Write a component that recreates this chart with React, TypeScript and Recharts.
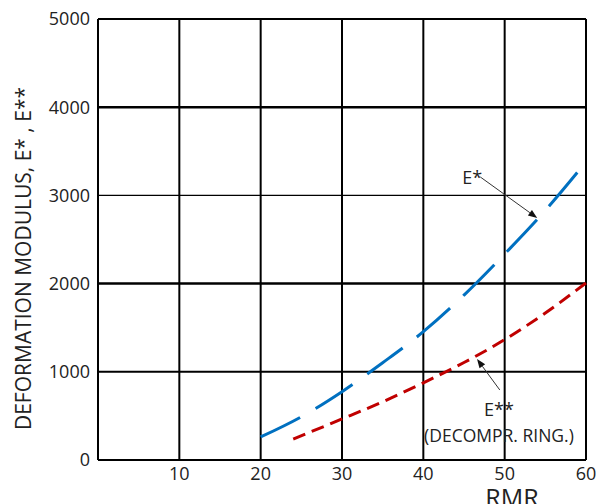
import {
  LineChart, Line, XAxis, YAxis, CartesianGrid, ReferenceLine, ReferenceDot,
} from 'recharts';

const FONT = '"Open Sans", "Noto Sans", sans-serif';

// E* (blue, long dash)
const rmrStar = [20, 25, 30, 35, 40, 45, 50, 55, 60];
const eStar = [261, 490, 775, 1103, 1455, 1870, 2336, 2830, 3380];

// E** decompressed ring (red, short dash)
const rmrDecomp = [24, 30, 35, 40, 45, 50, 55, 60];
const eDecomp = [238, 465, 660, 875, 1105, 1365, 1667, 2007];

const xTicks = [10, 20, 30, 40, 50, 60];
const yTicks = [0, 1000, 2000, 3000, 4000, 5000];

const starData = rmrStar.map((x, i) => ({ x, y: eStar[i] }));
const decompData = rmrDecomp.map((x, i) => ({ x, y: eDecomp[i] }));

const hLineWidth = (v: number) => (v === 2000 || v === 4000 ? 2.5 : v === 3000 ? 1.3 : 2);

function Arrow(p: any) {
  const { x1, y1, x2, y2 } = p;
  const ang = Math.atan2(y2 - y1, x2 - x1);
  const len = 9;
  const w = 3.5;
  const bx = x2 - len * Math.cos(ang);
  const by = y2 - len * Math.sin(ang);
  const px = -Math.sin(ang) * w;
  const py = Math.cos(ang) * w;
  return (
    <g>
      <line x1={x1} y1={y1} x2={bx} y2={by} stroke="#333" strokeWidth={1} />
      <polygon points={`${x2},${y2} ${bx + px},${by + py} ${bx - px},${by - py}`} fill="#111" />
    </g>
  );
}

const yLabel = (props: any) => {
  const vb = props.viewBox;
  const cx = 23;
  const cy = vb.y + vb.height / 2 + 19;
  return (
    <text x={cx} y={cy} transform={`rotate(-90 ${cx} ${cy})`} textAnchor="middle"
      dominantBaseline="central" fontSize={21} fill="#222" fontFamily={FONT}>
      DEFORMATION MODULUS, E* , E**
    </text>
  );
};

const xLabel = (props: any) => {
  const vb = props.viewBox;
  return (
    <text x={vb.x + vb.width - 74} y={vb.y + 47} textAnchor="middle"
      fontSize={25} fill="#222" fontFamily={FONT}>
      RMR
    </text>
  );
};

export default function App() {
  return (
    <div style={{ position: 'absolute', left: 0, top: 0, background: '#fff', fontFamily: FONT }}>
      <LineChart width={598} height={504} margin={{ top: 19, right: 12, bottom: 14, left: 0 }}>
        <CartesianGrid horizontal={false} stroke="#000" strokeWidth={2} />
        {yTicks.slice(1).map((v) => (
          <ReferenceLine key={v} y={v} stroke="#000" strokeWidth={hLineWidth(v)} />
        ))}
        <XAxis
          type="number" dataKey="x" domain={[0, 60]} ticks={xTicks} height={30} allowDuplicatedCategory={false}
          axisLine={{ stroke: '#000', strokeWidth: 2 }} tickLine={false} tickSize={0} tickMargin={7}
          tick={{ fontSize: 18, fill: '#222', fontFamily: FONT }}
          label={{ content: xLabel }}
        />
        <YAxis
          type="number" domain={[0, 5000]} ticks={yTicks} width={98}
          axisLine={{ stroke: '#000', strokeWidth: 2 }} tickLine={false} tickSize={0} tickMargin={8}
          tick={{ fontSize: 18, fill: '#222', fontFamily: FONT }}
          label={{ content: yLabel }}
        />
        <Line data={starData} dataKey="y" type="monotone" stroke="#0070C0" strokeWidth={3}
          strokeDasharray="44 18" dot={false} isAnimationActive={false} />
        <Line data={decompData} dataKey="y" type="monotone" stroke="#C00000" strokeWidth={3}
          strokeDasharray="13 7" dot={false} isAnimationActive={false} />
        <ReferenceLine segment={[{ x: 47.0, y: 3209 }, { x: 54.0, y: 2744 }]} shape={Arrow} />
        <ReferenceLine segment={[{ x: 49.4, y: 794 }, { x: 46.6, y: 1145 }]} shape={Arrow} />
        <ReferenceDot x={46.0} y={3200} r={0} fill="none" stroke="none"
          label={{ value: 'E*', position: 'center', fontSize: 18, fill: '#222', fontFamily: FONT }} />
        <ReferenceDot x={49.3} y={567} r={0} fill="none" stroke="none"
          label={{ value: 'E**', position: 'center', fontSize: 18, fill: '#222', fontFamily: FONT }} />
        <ReferenceDot x={49.3} y={272} r={0} fill="none" stroke="none"
          label={{ value: '(DECOMPR. RING.)', position: 'center', fontSize: 17.5, fill: '#222', fontFamily: FONT }} />
      </LineChart>
    </div>
  );
}
